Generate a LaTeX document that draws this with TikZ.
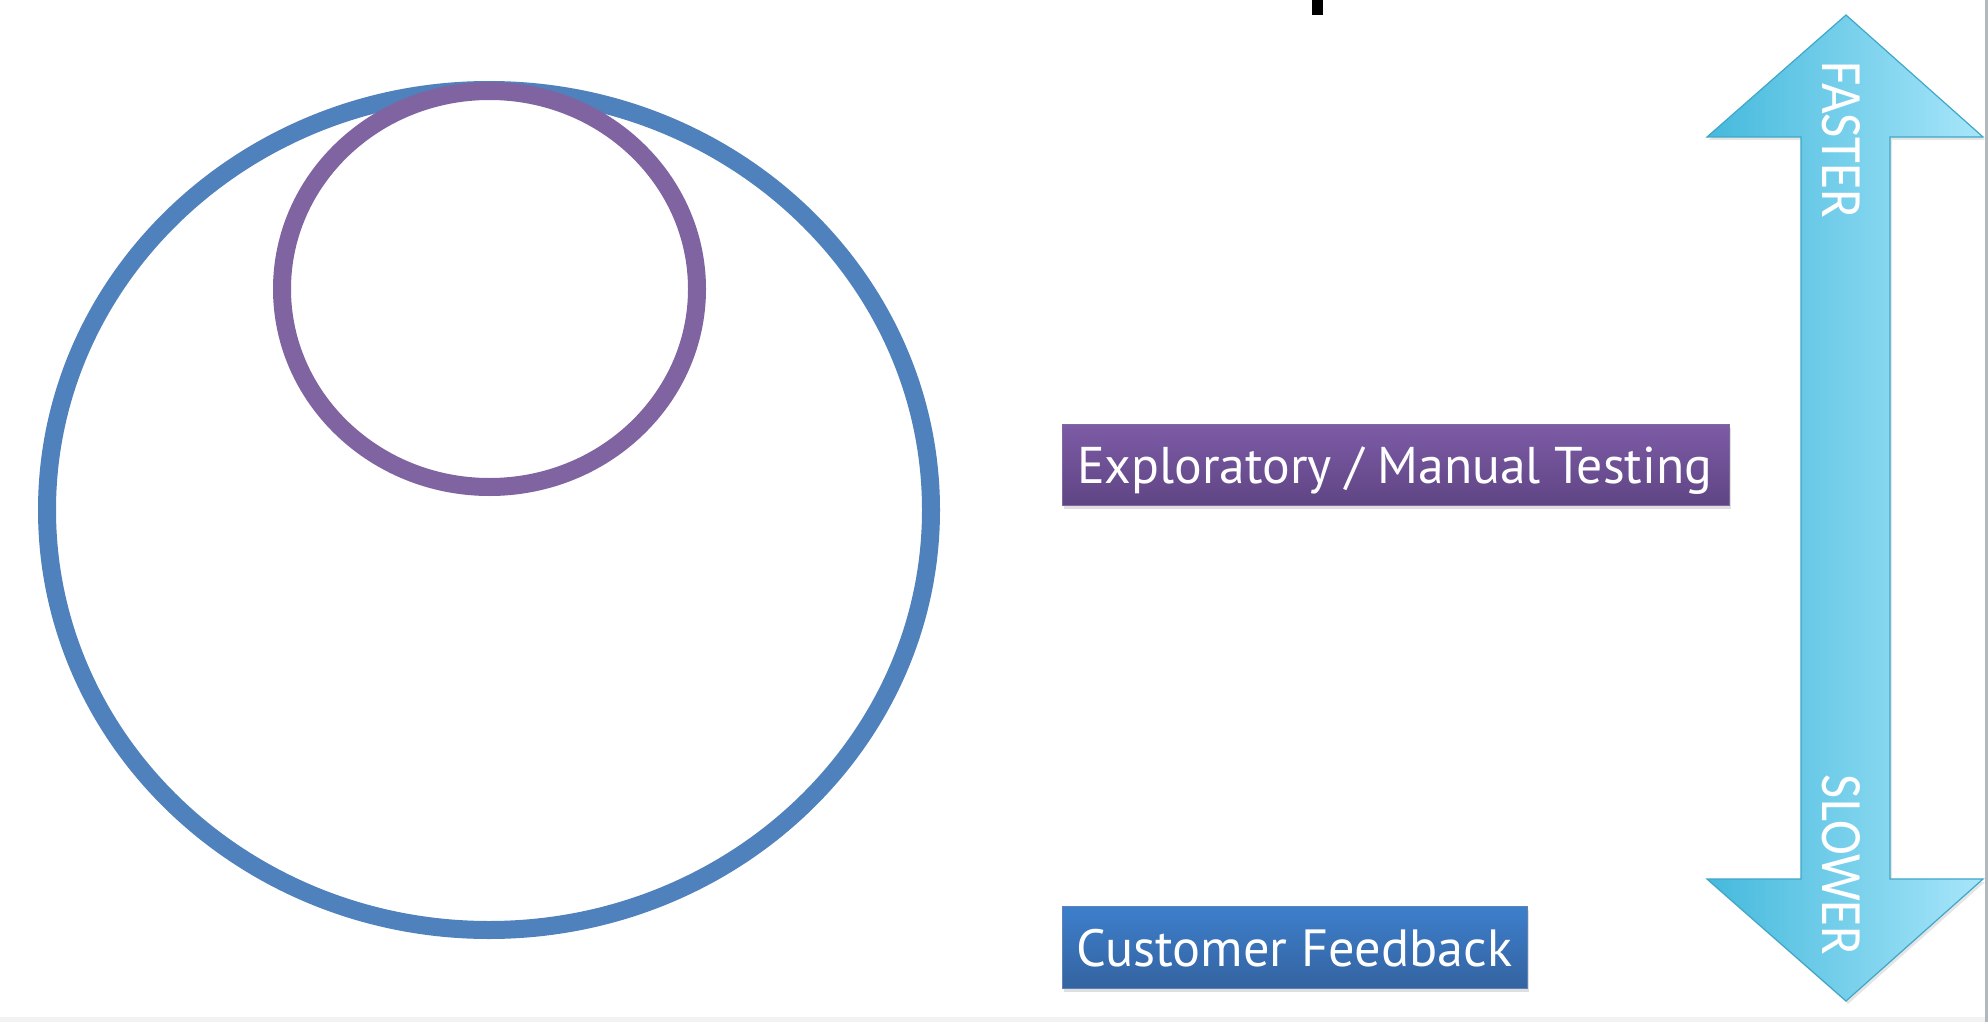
\documentclass[tikz,border=0pt]{standalone}
\usepackage{fontspec}
\newfontfamily\boxfont{PT Sans}
\newfontfamily\arrowfont{Carlito}
\usetikzlibrary{shapes.geometric,shadows}
\definecolor{ringblue}{HTML}{4F81BD}
\definecolor{ringpurple}{HTML}{8064A2}
\definecolor{purtop}{HTML}{7D5BA6}
\definecolor{purbot}{HTML}{5F4584}
\definecolor{blutop}{HTML}{3D7FCC}
\definecolor{blubot}{HTML}{3463A0}
\definecolor{arrleft}{HTML}{45B9DC}
\definecolor{arrright}{HTML}{A8E6FA}
\definecolor{arredge}{HTML}{3FA7C8}
\definecolor{stripgrey}{HTML}{F2F2F2}
\definecolor{bargrey}{HTML}{B3B8BD}
\tikzset{
  ring/.style={draw, ellipse, inner sep=0pt, line width=18pt},
  labelbox/.style={anchor=north west, inner sep=0pt,
    drop shadow={opacity=0.25, shadow xshift=2pt, shadow yshift=-4pt}},
  boxtext/.style={anchor=base west, inner sep=0pt, text=white},
  arrowtext/.style={inner sep=0pt, text=white, rotate=-90},
}
\begin{document}
\begin{tikzpicture}[x=1pt,y=-1pt]
\useasboundingbox (0,0) rectangle (1988,1022);
\fill[white] (0,0) rectangle (1988,1022);
\fill[stripgrey] (0,1017) rectangle (1988,1022);
\fill[bargrey] (1985,0) rectangle (1988,1022);
\fill[black] (1312,0) rectangle (1323,15);

% rings
\node[ring, draw=ringblue, minimum width=884pt, minimum height=840pt] (outer) at (489,510) {};
\node[ring, draw=ringpurple, minimum width=415pt, minimum height=396pt] (inner) at (489.5,289) {};

% boxes
\node[labelbox, minimum width=667pt, minimum height=81pt, top color=purtop, bottom color=purbot, draw=purbot!80!white, line width=0.6pt] (explorebox) at (1062,424) {};
\node[boxtext] (exploretext) at (1077,483) {\resizebox{635pt}{!}{\fontsize{51}{60}\selectfont\boxfont Exploratory / Manual Testing}};

\node[labelbox, minimum width=465pt, minimum height=82pt, top color=blutop, bottom color=blubot, draw=blubot!80!white, line width=0.6pt] (custbox) at (1062,906) {};
\node[boxtext] (custtext) at (1076,966) {\resizebox{436pt}{!}{\fontsize{51}{60}\selectfont\boxfont Customer Feedback}};

% double arrow
\path[left color=arrleft, right color=arrright, draw=arredge, line width=1.2pt,
  drop shadow={opacity=0.2, shadow xshift=2pt, shadow yshift=-3pt}]
  (1846,15) -- (1983,137) -- (1890,137) -- (1890,879) -- (1983,879)
  -- (1846,1001) -- (1707,879) -- (1801,879) -- (1801,137) -- (1707,137) -- cycle;
\node[arrowtext] (faster) at (1841,140) {\resizebox{156pt}{38pt}{\arrowfont FASTER}};
\node[arrowtext] (slower) at (1841,865) {\resizebox{180pt}{38pt}{\arrowfont SLOWER}};
\end{tikzpicture}
\end{document}
